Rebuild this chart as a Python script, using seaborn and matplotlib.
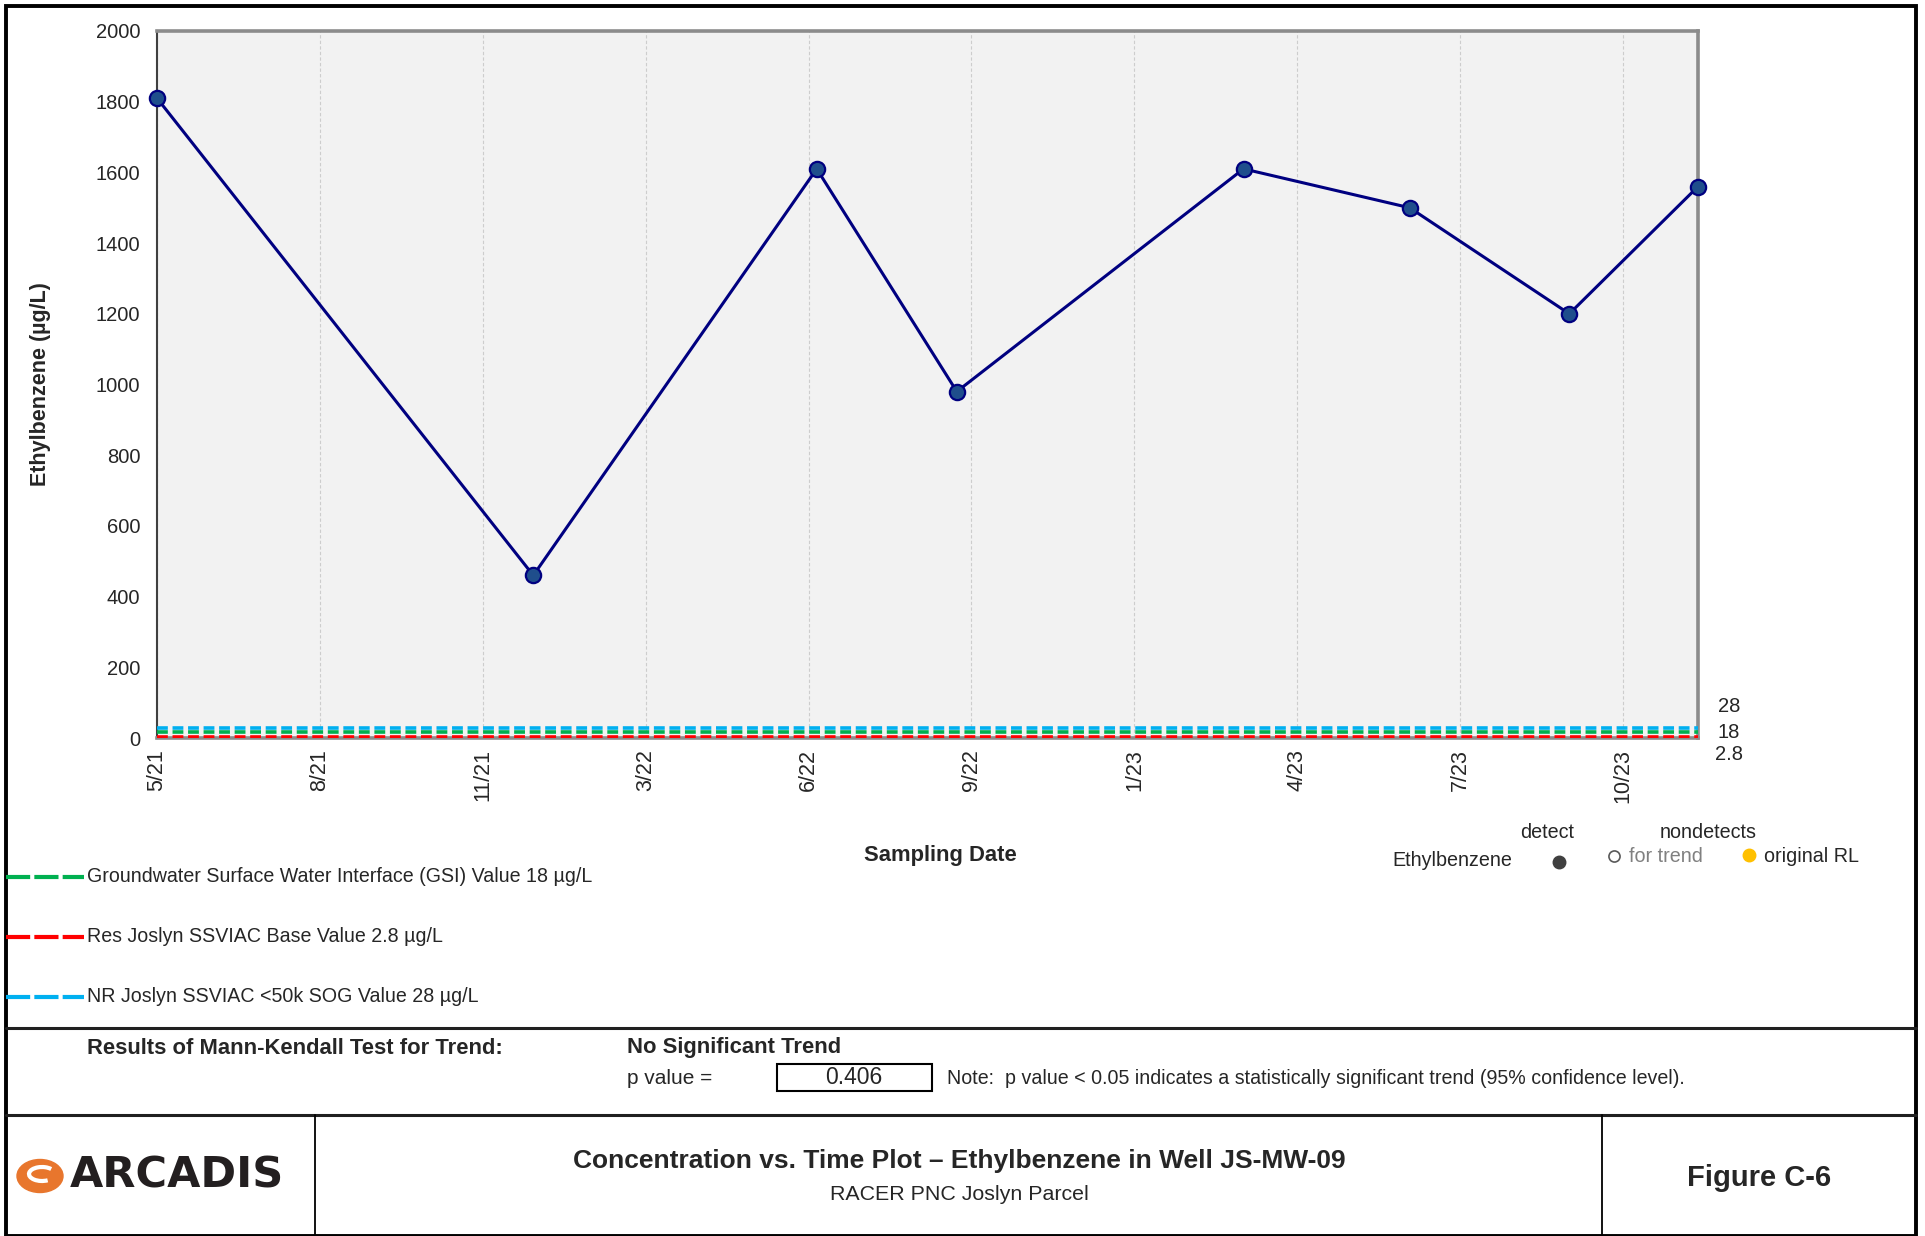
import seaborn as sns
import matplotlib.pyplot as plt
import matplotlib.dates as mdates
import pandas as pd
from matplotlib.lines import Line2D
from matplotlib.patches import Rectangle, Ellipse, Arc

# data
sample_dates = ['2021-05-12', '2021-12-29', '2022-06-21', '2022-09-15',
                '2023-03-10', '2023-06-20', '2023-09-26', '2023-12-14']
ethylbenzene = [1810, 460, 1610, 980, 1610, 1500, 1200, 1560]

tick_start = '2021-05-12'
tick_step_days = 100
tick_labels = ['5/21', '8/21', '11/21', '3/22', '6/22', '9/22', '1/23', '4/23', '7/23', '10/23']

screening_names = ['Groundwater Surface Water Interface (GSI) Value 18 µg/L',
                   'Res Joslyn SSVIAC Base Value 2.8 µg/L',
                   'NR Joslyn SSVIAC <50k SOG Value 28 µg/L']
screening_values = [18, 2.8, 28]
screening_colors = ['#00B050', '#FF0000', '#00B0F0']
screening_labels = ['28', '18', '2.8']

p_value = '0.406'

sns.set_style("white")
plt.rcParams['font.family'] = ['Liberation Sans', 'DejaVu Sans']

W, H = 1925, 1236
fig = plt.figure(figsize=(W / 100, H / 100), dpi=100)


def fx(px):
    return px / W


def fy(py):
    return 1 - py / H


ax = fig.add_axes([fx(157), fy(738), fx(1698) - fx(157), fy(31) - fy(738)])
ax.set_facecolor('#F2F2F2')

df = pd.DataFrame({'date': pd.to_datetime(sample_dates), 'conc': ethylbenzene})

# screening level lines
for val, col in zip(screening_values, screening_colors):
    ax.axhline(val, color=col, linewidth=2.6, dashes=(3.0, 1.3), dash_capstyle='butt', zorder=3)

sns.lineplot(data=df, x='date', y='conc', ax=ax, color='#000080', linewidth=2.2,
             marker='o', markersize=11, markerfacecolor='#1F4E8C',
             markeredgecolor='#000080', markeredgewidth=1.6, zorder=4, clip_on=False)

ticks = pd.date_range(tick_start, periods=len(tick_labels), freq=f'{tick_step_days}D')
ax.set_xticks(mdates.date2num(ticks))
ax.set_xticklabels(tick_labels, rotation=90, fontsize=15.5)
ax.set_xlim(mdates.date2num(pd.Timestamp(tick_start)), mdates.date2num(df['date'].iloc[-1]))
ax.set_ylim(0, 2000)
ax.set_yticks(range(0, 2001, 200))
ax.tick_params(axis='y', labelsize=14.5, length=6, width=1, color='#404040', pad=6)
ax.tick_params(axis='x', length=8, width=1.2, color='#808080', pad=0)
ax.grid(axis='x', color='#CDCDCD', linestyle=(0, (3, 2)), linewidth=0.8)
ax.grid(axis='y', visible=False)
ax.set_xlabel('')
ax.set_ylabel('Ethylbenzene (µg/L)', fontsize=15.5, fontweight='bold')
ax.yaxis.set_label_coords(-0.069, 0.5)

for s in ['top', 'right', 'bottom']:
    ax.spines[s].set_color('#8C8C8C')
    ax.spines[s].set_linewidth(2.6)
ax.spines['left'].set_color('#404040')
ax.spines['left'].set_linewidth(1.5)

# right-hand value labels
for txt, py in zip(screening_labels, [706, 732, 755]):
    fig.text(fx(1729), fy(py), txt, ha='center', va='center', fontsize=14.5)

fig.text(fx(940), fy(856), 'Sampling Date', ha='center', va='center', fontsize=15.8, fontweight='bold')

# screening legend lower left
for name, col, py in zip(screening_names, screening_colors, [877, 937, 997]):
    fig.add_artist(Line2D([fx(6), fx(84)], [fy(py), fy(py)], color=col, linewidth=3.0,
                          dashes=(5.8, 1.0), dash_capstyle='butt'))
    fig.text(fx(87), fy(py), name, ha='left', va='center', fontsize=14.1)

# detect / nondetect legend
fig.text(fx(1547), fy(832), 'detect', ha='center', va='center', fontsize=14.2)
fig.text(fx(1708), fy(832), 'nondetects', ha='center', va='center', fontsize=14.2)
fig.text(fx(1452), fy(861), 'Ethylbenzene', ha='center', va='center', fontsize=14.2)
fig.add_artist(Line2D([fx(1559)], [fy(862)], marker='o', markersize=9, color='#404040', linestyle=''))
fig.add_artist(Line2D([fx(1614)], [fy(856)], marker='o', markersize=8, markerfacecolor='white',
                      markeredgecolor='#595959', markeredgewidth=1.2, linestyle=''))
fig.text(fx(1629), fy(856), 'for trend', ha='left', va='center', fontsize=14.2, color='#808080')
fig.add_artist(Line2D([fx(1749)], [fy(855)], marker='o', markersize=9, color='#FFC000', linestyle=''))
fig.text(fx(1764), fy(856), 'original RL', ha='left', va='center', fontsize=14.2)

# frame
fig.add_artist(Rectangle((fx(6), fy(1236)), fx(1916) - fx(6), fy(6) - fy(1236),
                         fill=False, edgecolor='black', linewidth=2.8, transform=fig.transFigure))
for py in [1028, 1115]:
    fig.add_artist(Line2D([fx(6), fx(1916)], [fy(py), fy(py)], color='#202020', linewidth=2.2))
for px in [315, 1602]:
    fig.add_artist(Line2D([fx(px), fx(px)], [fy(1115), fy(1236)], color='black', linewidth=1.3))

# Mann-Kendall block
fig.text(fx(87), fy(1048), 'Results of Mann-Kendall Test for Trend:', ha='left', va='center',
         fontsize=15.8, fontweight='bold')
fig.text(fx(627), fy(1048), 'No Significant Trend', ha='left', va='center', fontsize=15.8, fontweight='bold')
fig.text(fx(627), fy(1078), 'p value =', ha='left', va='center', fontsize=15)
fig.add_artist(Rectangle((fx(777), fy(1091)), fx(932) - fx(777), fy(1064) - fy(1091),
                         fill=False, edgecolor='black', linewidth=1.5, transform=fig.transFigure))
fig.text(fx(854), fy(1078), p_value, ha='center', va='center', fontsize=16.5)
fig.text(fx(947), fy(1078), 'Note:  p value < 0.05 indicates a statistically significant trend (95% confidence level).',
         ha='left', va='center', fontsize=14.1)

# title block
fig.text(fx(959), fy(1161), 'Concentration vs. Time Plot \u2013 Ethylbenzene in Well JS-MW-09', ha='center',
         va='center', fontsize=19, fontweight='bold')
fig.text(fx(959), fy(1195), 'RACER PNC Joslyn Parcel', ha='center', va='center', fontsize=15.4)
fig.text(fx(1759), fy(1178), 'Figure C-6', ha='center', va='center', fontsize=21, fontweight='bold')

# logo
fig.add_artist(Ellipse((fx(40), fy(1176)), fx(46), 33 / H, color='#E8762D', transform=fig.transFigure))
fig.add_artist(Arc((fx(42), fy(1174)), fx(26), 14 / H, theta1=40, theta2=300, color='white',
                   linewidth=3, transform=fig.transFigure))
fig.text(fx(70), fy(1176), 'ARCADIS', ha='left', va='center', fontsize=31, color='#231F20',
         fontweight='bold', family=['DejaVu Sans'])

fig.savefig('out.png', dpi=100)
